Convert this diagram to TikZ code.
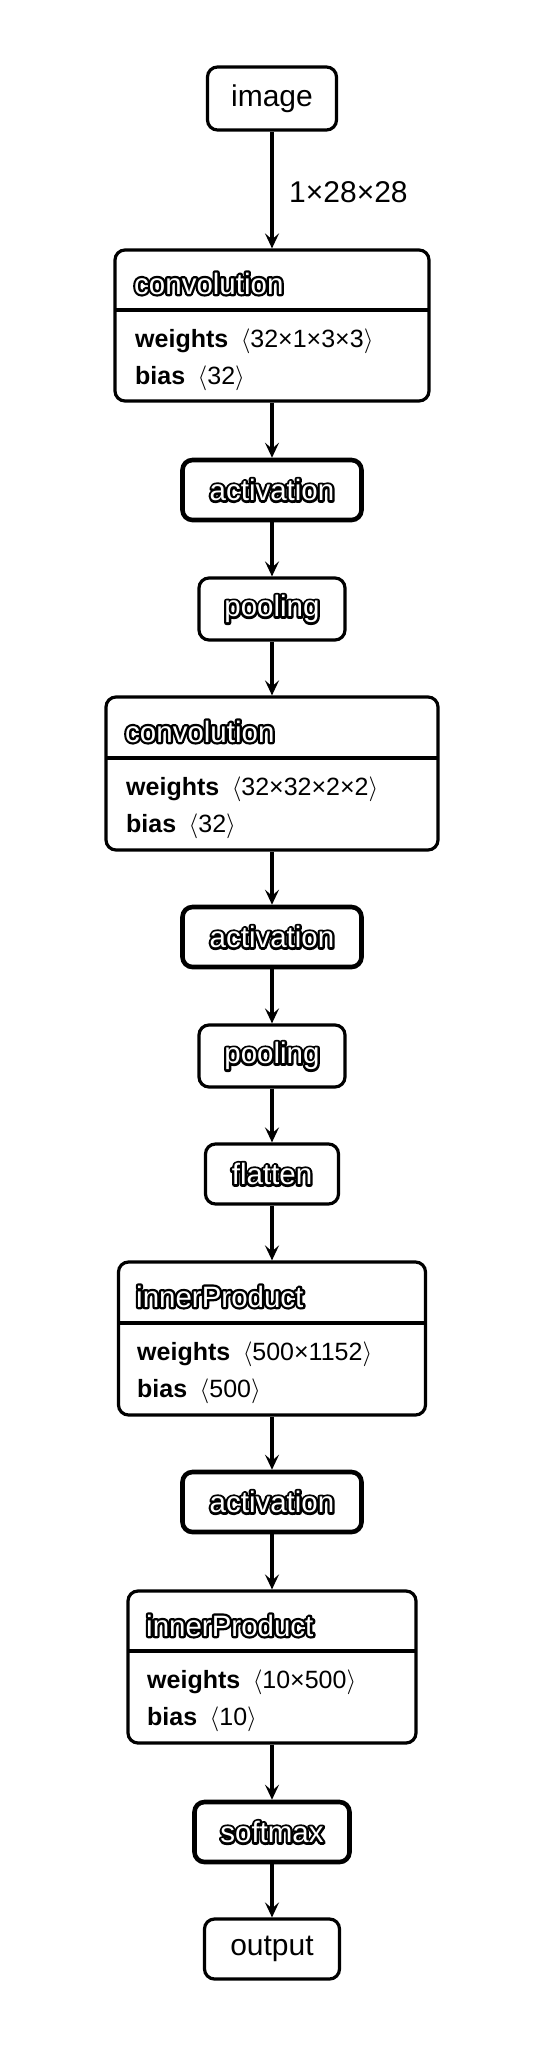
\documentclass[tikz,border=0pt]{standalone}
\usepackage{fontspec}
\setmainfont{Liberation Sans}
\usetikzlibrary{arrows.meta}
\newcommand{\ttl}[1]{\rlap{\special{pdf:code 1 Tr 4.6 w 1 j}#1\special{pdf:code 0 Tr 0.4 w 0 j}}\textcolor{white}{#1}}
\newcommand{\bigf}{\fontsize{30}{36}\selectfont}
\newcommand{\titf}{\fontsize{29.5}{36}\selectfont}
\newcommand{\bodyf}{\fontsize{25}{30}\selectfont}
\tikzset{
  sbox/.style={draw, line width=3.2pt, rounded corners=10pt, inner sep=0pt, fill=white},
  iobox/.style={sbox, font=\bigf},
  opbox/.style={sbox, font=\titf},
  hopbox/.style={sbox, line width=4.6pt, font=\titf},
  cbox/.style={draw, line width=3.2pt, rounded corners=10pt, inner sep=0pt},
  divider/.style={line width=3.2pt},
  ttext/.style={anchor=base west, font=\titf, inner sep=0pt},
  btext/.style={anchor=base west, font=\bodyf, inner sep=0pt},
  arr/.style={line width=3.3pt, -{Stealth[length=15pt, width=14pt, inset=6pt]}},
}
\begin{document}
\begin{tikzpicture}[x=1pt, y=-1pt]
\useasboundingbox (0,0) rectangle (556,2056);

% input
\node[iobox, minimum width=129pt, minimum height=63pt] (img) at (272,98.5) {image};

% convolution 1
\node[cbox, minimum width=314pt, minimum height=151pt] (conv1) at (272,325.5) {};
\draw[divider] (115,310) -- (429,310);
\node[ttext] (conv1t) at (134,294) {\ttl{convolution}};
\node[btext] (conv1w) at (135,347) {\textbf{weights}\,\,\,$\langle$32×1×3×3$\rangle$};
\node[btext] (conv1b) at (135,384) {\textbf{bias}\,\,\,$\langle$32$\rangle$};

\node[hopbox, minimum width=179pt, minimum height=60pt] (act1) at (272,490) {\ttl{activation}};
\node[opbox, minimum width=146pt, minimum height=62pt] (pool1) at (272,609) {\ttl{pooling}};

% convolution 2
\node[cbox, minimum width=332pt, minimum height=153pt] (conv2) at (272,773.5) {};
\draw[divider] (106,758) -- (438,758);
\node[ttext] (conv2t) at (125,742) {\ttl{convolution}};
\node[btext] (conv2w) at (126,795) {\textbf{weights}\,\,\,$\langle$32×32×2×2$\rangle$};
\node[btext] (conv2b) at (126,832) {\textbf{bias}\,\,\,$\langle$32$\rangle$};

\node[hopbox, minimum width=179pt, minimum height=60pt] (act2) at (272,937) {\ttl{activation}};
\node[opbox, minimum width=146pt, minimum height=62pt] (pool2) at (272,1056) {\ttl{pooling}};
\node[opbox, minimum width=133pt, minimum height=60pt] (flat) at (272,1174) {\ttl{flatten}};

% inner product 1
\node[cbox, minimum width=307pt, minimum height=153pt] (ip1) at (272,1338.5) {};
\draw[divider] (118,1323) -- (425,1323);
\node[ttext] (ip1t) at (136,1307) {\ttl{innerProduct}};
\node[btext] (ip1w) at (137,1360) {\textbf{weights}\,\,\,$\langle$500×1152$\rangle$};
\node[btext] (ip1b) at (137,1397) {\textbf{bias}\,\,\,$\langle$500$\rangle$};

\node[hopbox, minimum width=179pt, minimum height=60pt] (act3) at (272,1502) {\ttl{activation}};

% inner product 2
\node[cbox, minimum width=288pt, minimum height=152pt] (ip2) at (272,1667) {};
\draw[divider] (128,1651) -- (416,1651);
\node[ttext] (ip2t) at (146,1636) {\ttl{innerProduct}};
\node[btext] (ip2w) at (147,1688) {\textbf{weights}\,\,\,$\langle$10×500$\rangle$};
\node[btext] (ip2b) at (147,1725) {\textbf{bias}\,\,\,$\langle$10$\rangle$};

\node[hopbox, minimum width=155pt, minimum height=60pt] (soft) at (272,1832) {\ttl{softmax}};
\node[iobox, minimum width=135pt, minimum height=60pt] (out) at (272,1949) {output};

% connectors
\draw[arr] (img) -- (conv1);
\node[anchor=base west, font=\bigf, inner sep=0pt] (lbl1) at (289,202) {1×28×28};
\draw[arr] (conv1) -- (act1);
\draw[arr] (act1) -- (pool1);
\draw[arr] (pool1) -- (conv2);
\draw[arr] (conv2) -- (act2);
\draw[arr] (act2) -- (pool2);
\draw[arr] (pool2) -- (flat);
\draw[arr] (flat) -- (ip1);
\draw[arr] (ip1) -- (act3);
\draw[arr] (act3) -- (ip2);
\draw[arr] (ip2) -- (soft);
\draw[arr] (soft) -- (out);
\end{tikzpicture}
\end{document}
